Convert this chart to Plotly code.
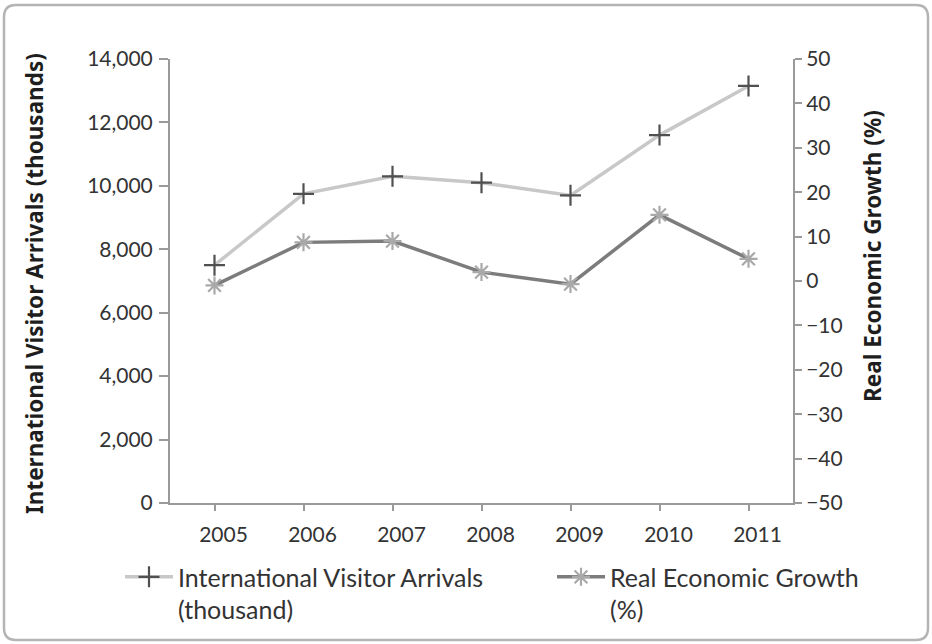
import plotly.graph_objects as go

# Data
years = ["2005", "2006", "2007", "2008", "2009", "2010", "2011"]
arrivals = [7500, 9750, 10300, 10100, 9700, 11600, 13150]      # thousands
growth = [-1.0, 8.7, 9.0, 2.0, -0.7, 14.9, 5.0]                 # percent

arrivals_name = "International Visitor Arrivals<br>(thousand)"
growth_name = "Real Economic Growth<br>(%)"
left_title = "International Visitor Arrivals (thousands)"
right_title = "Real Economic Growth (%)"

W, H = 932, 644
ML, MR, MT, MB = 170, 139, 59, 141
PW, PH = W - ML - MR, H - MT - MB

AXIS = "#9a9a9a"
TXT = "#333333"
FONT = "Lato"
BOLD_FONT = "Noto Sans"


def px_to_paper(x, y):
    return (x - ML) / PW, (H - MB - y) / PH


def rounded_rect_path(x0, y0, x1, y1, r):
    rx, ry = r / PW, r / PH
    a0, b1 = px_to_paper(x0, y0)
    a1, b0 = px_to_paper(x1, y1)
    return (
        f"M {a0 + rx},{b1} L {a1 - rx},{b1} Q {a1},{b1} {a1},{b1 - ry} "
        f"L {a1},{b0 + ry} Q {a1},{b0} {a1 - rx},{b0} "
        f"L {a0 + rx},{b0} Q {a0},{b0} {a0},{b0 + ry} "
        f"L {a0},{b1 - ry} Q {a0},{b1} {a0 + rx},{b1} Z"
    )


fig = go.Figure()

fig.add_trace(go.Scatter(
    x=years, y=arrivals, name=arrivals_name, mode="lines+markers",
    line=dict(color="#c8c8c8", width=3.5),
    marker=dict(symbol="cross-thin", size=15, color="#505050",
                line=dict(color="#505050", width=2.2)),
    yaxis="y", legend="legend",
))

fig.add_trace(go.Scatter(
    x=years, y=growth, name=growth_name, mode="lines+markers",
    line=dict(color="#7c7c7c", width=3.5),
    marker=dict(symbol="asterisk-open", size=15, color="#a9a9a9",
                line=dict(color="#a9a9a9", width=2.2)),
    yaxis="y2", legend="legend2",
))

axis_common = dict(
    showline=True, linecolor=AXIS, linewidth=2,
    ticks="outside", tickcolor=AXIS, tickwidth=1.5,
    showgrid=False, zeroline=False,
    tickfont=dict(family=FONT, size=21, color=TXT),
)

legend_common = dict(
    orientation="v", xanchor="left", yanchor="top", y=-0.115,
    font=dict(family=FONT, size=25, color=TXT),
    itemwidth=48, valign="top", bgcolor="rgba(0,0,0,0)",
)

fig.update_layout(
    width=W, height=H,
    margin=dict(l=ML, r=MR, t=MT, b=MB, autoexpand=False),
    paper_bgcolor="white", plot_bgcolor="white",
    font=dict(family=FONT, color=TXT),
    xaxis=dict(**axis_common, type="category", range=[-0.5, 6.5],
               ticklen=6, ticklabelshift=9, ticklabelstandoff=6),
    yaxis=dict(**axis_common, range=[0, 14000], dtick=2000,
               tickformat=",", ticklen=9, ticklabelstandoff=2),
    yaxis2=dict(**axis_common, overlaying="y", side="right", anchor="x",
                range=[-50, 50], dtick=10, ticklen=7),
    showlegend=True,
    legend=dict(**legend_common, x=px_to_paper(120, 0)[0]),
    legend2=dict(**legend_common, x=px_to_paper(552, 0)[0]),
    shapes=[dict(
        type="path", xref="paper", yref="paper",
        path=rounded_rect_path(4, 5, 928, 640, 12),
        line=dict(color="#b4b4b4", width=2.5), layer="below",
    )],
    annotations=[
        dict(text=f"<b>{left_title}</b>", textangle=-90,
             xref="paper", yref="paper",
             x=px_to_paper(34, 0)[0], y=px_to_paper(0, 284)[1],
             xanchor="center", yanchor="middle", showarrow=False,
             font=dict(family=BOLD_FONT, size=22.5, color="#1e1e1e")),
        dict(text=f"<b>{right_title}</b>", textangle=-90,
             xref="paper", yref="paper",
             x=px_to_paper(872, 0)[0], y=px_to_paper(0, 256)[1],
             xanchor="center", yanchor="middle", showarrow=False,
             font=dict(family=BOLD_FONT, size=22.5, color="#1e1e1e")),
    ],
)

fig.write_html("out.html")
